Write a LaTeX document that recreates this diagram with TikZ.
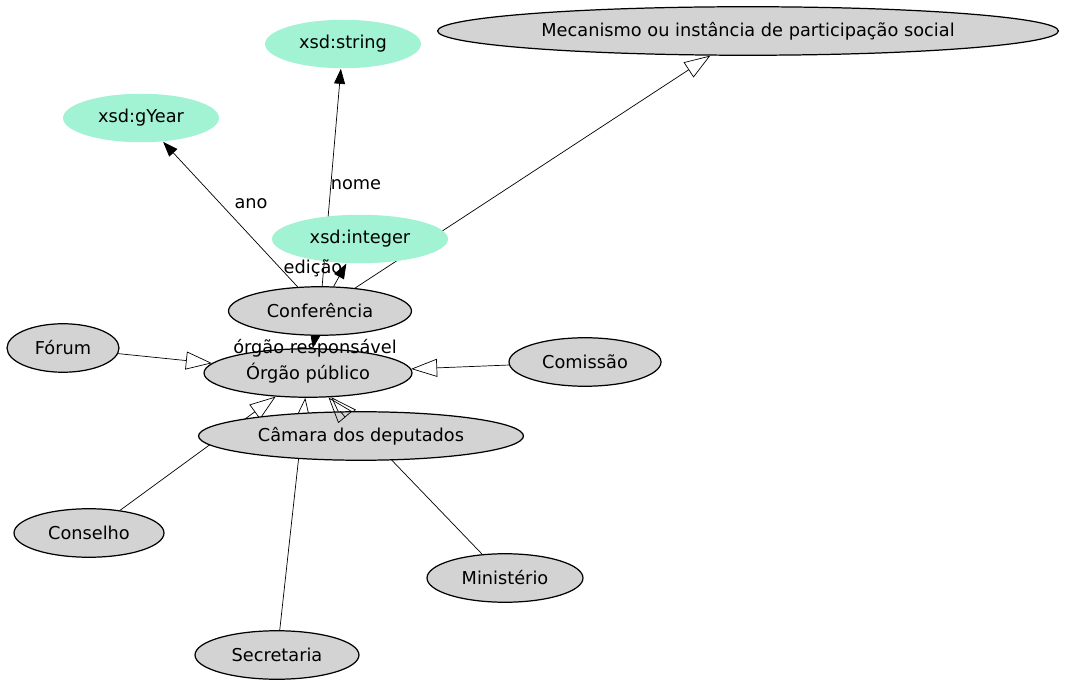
\documentclass[tikz,border=0pt]{standalone}
\usepackage{fontspec}
\setmainfont{DejaVu Sans}
\usepackage{tikz}
\usetikzlibrary{shapes.geometric, arrows.meta}
\definecolor{classe}{RGB}{211,211,211}
\definecolor{tipo}{RGB}{162,242,212}
\pgfdeclarelayer{fundo}
\pgfsetlayers{fundo,main}

\begin{document}
\begin{tikzpicture}[x=0.02cm, y=-0.02cm, line width=0.7pt,
    cls/.style={ellipse, draw, fill=classe, inner sep=0pt, minimum height=0.97cm, font=\fontsize{10.1}{12}\selectfont},
    dtype/.style={ellipse, fill=tipo, inner sep=0pt, minimum height=0.97cm, font=\fontsize{10.1}{12}\selectfont},
    lbl/.style={inner sep=0pt, font=\fontsize{10.1}{12}\selectfont},
    prop/.style={-{Triangle[length=0.3cm, width=0.22cm]}},
    sub/.style={-{Triangle[open, length=0.52cm, width=0.36cm]}}]
  \useasboundingbox (0,0) rectangle (1067,688);
  % datatypes
  \node[dtype, minimum width=3.12cm] (string) at (343,44) {xsd:string};
  \node[dtype, minimum width=3.12cm] (gyear) at (141,118) {xsd:gYear};
  \node[dtype, minimum width=3.52cm] (integer) at (360,239) {xsd:integer};
  % classes
  \node[cls, minimum width=12.42cm] (mecanismo) at (748,31) {Mecanismo ou instância de participação social};
  \node[cls, minimum width=3.66cm] (conferencia) at (320,311) {Conferência};
  \node[cls, minimum width=2.24cm] (forum) at (63,348) {Fórum};
  \node[cls, minimum width=4.16cm] (orgao) at (308,373) {Órgão público};
  \node[cls, minimum width=3.04cm] (comissao) at (585,362) {Comissão};
  \node[cls, minimum width=6.5cm] (camara) at (361,436) {Câmara dos deputados};
  \node[cls, minimum width=3cm] (conselho) at (89,533) {Conselho};
  \node[cls, minimum width=3.12cm] (ministerio) at (505,578) {Ministério};
  \node[cls, minimum width=3.28cm] (secretaria) at (277,655) {Secretaria};
  % edges behind the nodes
  \begin{pgfonlayer}{fundo}
    \draw[prop] (conferencia) -- (gyear);
    \draw[prop] (conferencia) -- (string);
    \draw[prop] (conferencia) -- (integer);
    \draw[prop] (conferencia) -- (orgao);
    \draw[sub] (conferencia) -- (mecanismo);
    \foreach \sc in {forum, comissao, conselho, secretaria, ministerio}{
      \draw[sub] (\sc) -- (orgao);
    }
  \end{pgfonlayer}
  \draw[sub] (camara) -- (orgao);
  % property labels
  \node[lbl] (l-ano) at (251,204) {ano};
  \node[lbl] (l-nome) at (356,185) {nome};
  \node[lbl] (l-edicao) at (313,268) {edição};
  \node[lbl] (l-orgao) at (315,348) {órgão responsável};
\end{tikzpicture}
\end{document}
